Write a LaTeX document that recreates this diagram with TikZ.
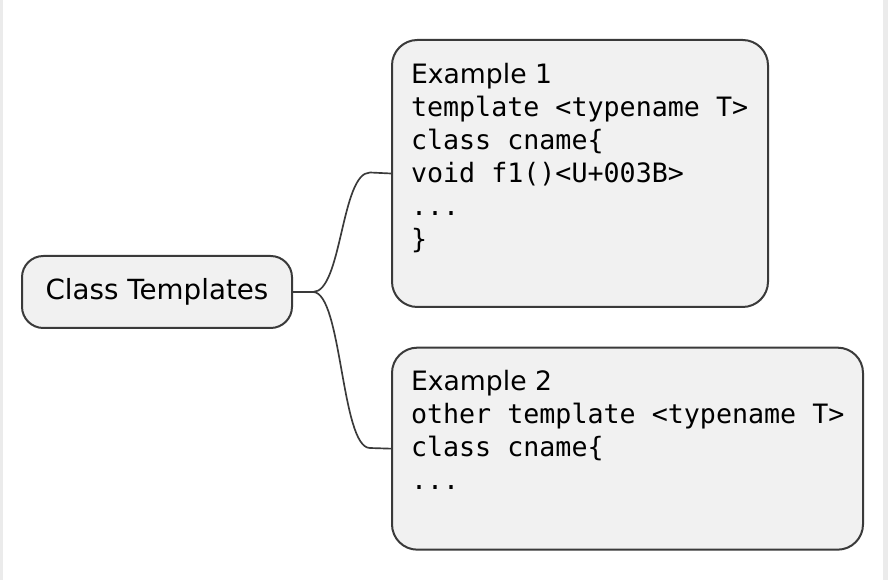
\documentclass[tikz,border=0pt]{standalone}
\usepackage{fontspec}
\setmainfont{DejaVu Sans}
\setmonofont{DejaVu Sans Mono}
\usetikzlibrary{positioning}
\definecolor{linegray}{HTML}{3A3A3A}
\definecolor{boxgray}{HTML}{F1F1F1}
\definecolor{edgegray}{HTML}{EBEBEB}
\tikzset{
topic/.style={rectangle, rounded corners=16pt, draw=linegray, line width=1.5pt, fill=boxgray, minimum width=202.5pt, minimum height=54pt, font=\fontsize{20.8}{24.75}\selectfont},
leaf/.style={rectangle, rounded corners=19pt, draw=linegray, line width=1.5pt, fill=boxgray, anchor=north west, inner xsep=14.25pt, inner ysep=15pt, font=\fontsize{20}{24.75}\selectfont},
connect/.style={draw=linegray, line width=1.25pt}
}
\newcommand{\leafbody}[3]{\begin{minipage}[t][#2][t]{#1}#3\end{minipage}}

\begin{document}
\begin{tikzpicture}[x=0.75pt, y=-0.75pt]
        % page and side strips
        \useasboundingbox (0,0) rectangle (888,580);
        \fill[white] (0,0) rectangle (888,580);
        \fill[edgegray] (0,0) rectangle (3,580);
        \fill[edgegray] (883,0) rectangle (888,580);

        \node[topic] (root) at (157,292) {Class Templates};
        \node[leaf] (ex1) at (391,39) {\leafbody{253.5pt}{170.25pt}{\strut Example 1\\
            \ttfamily template~<typename~T>\\
            class cname\{\\
            void f1()<U+003B>\\
            ...\\
            \}}};
        \node[leaf, below=29pt of ex1.south west, anchor=north west] (ex2) {\leafbody{324.75pt}{121.5pt}{\strut Example 2\\
            \ttfamily other~template~<typename~T>\\
            class cname\{\\
            ...}};

        \coordinate (fork) at (313,292);
        \coordinate (in1) at (370,172.5);
        \coordinate (in2) at (370,448);

        \draw[connect] (root.east) -- (fork) .. controls +(29,0) and +(-29,0) .. (in1) -- (ex1.west);
        \draw[connect] (fork) .. controls +(29,0) and +(-29,0) .. (in2) -- (ex2.west);
    \end{tikzpicture}
\end{document}
